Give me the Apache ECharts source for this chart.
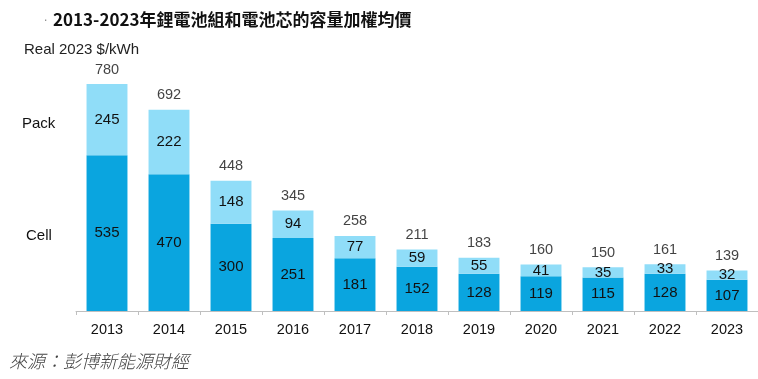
<!DOCTYPE html>
<html><head><meta charset="utf-8">
<script src="https://cdn.jsdelivr.net/npm/echarts@6/dist/echarts.min.js"></script>
<style>html,body{margin:0;padding:0;background:#fff}#c{width:758px;height:379px}</style>
</head><body><div id="c"></div>
<script>
const years = ['2013','2014','2015','2016','2017','2018','2019','2020','2021','2022','2023'];
const cell = [535,470,300,251,181,152,128,119,115,128,107];
const pack = [245,222,148,94,77,59,55,41,35,33,32];
const totals = [780,692,448,345,258,211,183,160,150,161,139];

const LAT = 'Arial, "Liberation Sans", sans-serif';
const CJK = '"Noto Sans CJK TC", "Noto Sans CJK SC", sans-serif';
const chart = echarts.init(document.getElementById('c'), null, {renderer:'canvas'});
chart.setOption({
  animation:false,
  backgroundColor:'#fff',
  grid:{left:76, right:-7, top:78.2, bottom:68, containLabel:false},
  xAxis:{type:'category', data:years,
    axisLine:{show:true, lineStyle:{color:'#bfbfbf', width:1}},
    axisTick:{show:true, alignWithLabel:false, length:4, lineStyle:{color:'#bfbfbf'}},
    axisLabel:{color:'#111', fontSize:14.5, fontFamily:LAT, margin:11}},
  yAxis:{type:'value', min:0, max:800, show:false, splitLine:{show:false}},
  series:[
    {type:'bar', stack:'s', data:cell, barWidth:'66%',
      itemStyle:{color:'#0aa5df'},
      label:{show:true, position:'inside', color:'#111', fontSize:15, fontFamily:LAT}},
    {type:'bar', stack:'s', data:pack, barWidth:'66%',
      itemStyle:{color:'#90ddf8'},
      label:{show:true, position:'inside', color:'#111', fontSize:15, fontFamily:LAT}},
    {type:'scatter', data:totals, symbolSize:0, silent:true,
      label:{show:true, position:'top', distance:7, color:'#111', fontSize:14.5, fontFamily:LAT,
        formatter:p=>totals[p.dataIndex]}}
  ],
  graphic:[
    {type:'text', left:44, top:12, style:{text:'.', fontSize:12, fill:'#888', fontFamily:LAT}},
    {type:'text', left:53, top:11, style:{text:'2013-2023年鋰電池組和電池芯的容量加權均價', fontSize:17, fontWeight:'bold', fill:'#111', fontFamily:CJK}},
    {type:'text', left:24, top:42, style:{text:'Real 2023 $/kWh', fontSize:15, fill:'#222', fontFamily:LAT}},
    {type:'text', left:22, top:116, style:{text:'Pack', fontSize:15, fill:'#111', fontFamily:LAT}},
    {type:'text', left:26, top:228, style:{text:'Cell', fontSize:15, fill:'#111', fontFamily:LAT}},
    {type:'text', left:9, top:352, style:{text:'來源：彭博新能源財經', fontSize:18, fontStyle:'italic', fontWeight:300, fill:'#444', fontFamily:CJK}}
  ]
});
</script></body></html>
